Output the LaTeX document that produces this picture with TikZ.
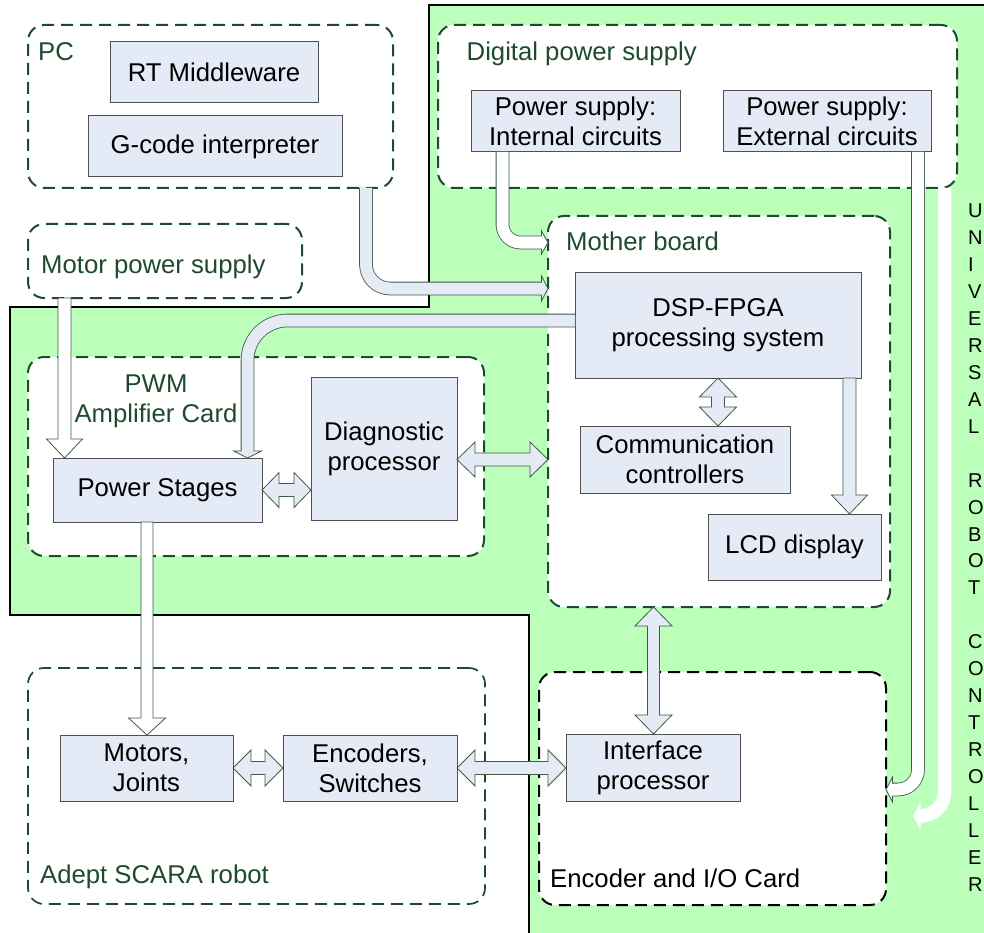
\documentclass[tikz,border=0pt]{standalone}
\usepackage{fontspec}
\setmainfont{Liberation Sans}
\usetikzlibrary{calc}
\definecolor{greenbg}{RGB}{187,255,187}
\definecolor{dkgreen}{RGB}{30,75,45}
\definecolor{boxfill}{RGB}{229,235,246}
\definecolor{boxline}{RGB}{80,80,80}
\definecolor{arrline}{RGB}{65,90,72}
\definecolor{afill}{RGB}{229,235,244}
\newcommand\mainfnt{\fontsize{25.7}{30}\selectfont}
\tikzset{
  container/.style={draw=dkgreen, line width=2pt, dash pattern=on 12pt off 7pt, rounded corners=16pt, fill=white, inner sep=0pt, outer sep=0pt},
  cbox/.style={draw=boxline, line width=1pt, fill=boxfill, inner sep=0pt, outer sep=0pt, align=center, font=\mainfnt},
  lbl/.style={inner sep=0pt, anchor=base west, text=dkgreen, font=\mainfnt},
  vlet/.style={inner sep=0pt, anchor=base west, font=\fontsize{20}{27}\selectfont},
  arrbody/.style={draw=arrline, line width=0.8pt, line join=miter},
}
% node by corners: style, name, x1, y1, x2, y2, text
\newcommand\boxnode[7]{\node[#1, minimum width={#5-#3}, minimum height={#6-#4}] (#2) at ({(#3+#5)/2},{(#4+#6)/2}) {#7};}
% horizontal double arrow: p1 (left tip), p2 (right tip), head length, head half width, shaft half width
\newcommand\dblH[5]{\filldraw[arrbody, fill=afill] (#1) -- ($(#1)+(#3,-#4)$) -- ($(#1)+(#3,-#5)$) -- ($(#2)+(-#3,-#5)$) -- ($(#2)+(-#3,-#4)$) -- (#2) -- ($(#2)+(-#3,#4)$) -- ($(#2)+(-#3,#5)$) -- ($(#1)+(#3,#5)$) -- ($(#1)+(#3,#4)$) -- cycle;}
% vertical double arrow: p1 (top tip), p2 (bottom tip)
\newcommand\dblV[5]{\filldraw[arrbody, fill=afill] (#1) -- ($(#1)+(#4,#3)$) -- ($(#1)+(#5,#3)$) -- ($(#2)+(#5,-#3)$) -- ($(#2)+(#4,-#3)$) -- (#2) -- ($(#2)+(-#4,-#3)$) -- ($(#2)+(-#5,-#3)$) -- ($(#1)+(-#5,#3)$) -- ($(#1)+(-#4,#3)$) -- cycle;}
% single downward arrow: start, tip, head length, head half width, shaft half width, fill
\newcommand\sglD[6]{\filldraw[arrbody, fill=#6] ($(#1)+(-#5,0)$) -- ($(#2)+(-#5,-#3)$) -- ($(#2)+(-#4,-#3)$) -- (#2) -- ($(#2)+(#4,-#3)$) -- ($(#2)+(#5,-#3)$) -- ($(#1)+(#5,0)$) -- cycle;}
\begin{document}
\begin{tikzpicture}[x=1pt,y=-1pt]
\useasboundingbox (0,0) rectangle (984,933);
% green region
\filldraw[fill=greenbg, draw=black, line width=2.2pt] (429,5) -- (995,5) -- (995,945) -- (529,945) -- (529,615) -- (10,615) -- (10,307) -- (429,307) -- cycle;

% containers
\boxnode{container}{pc}{28}{25}{393}{188}{}
\boxnode{container}{mps}{28}{224}{302}{298}{}
\boxnode{container}{dps}{438}{25}{957}{188}{}
\boxnode{container}{mb}{548}{216}{890}{607}{}
\boxnode{container}{pwm}{28}{357}{484}{556}{}
\boxnode{container, line width=1.7pt}{robot}{28}{668}{485}{904}{}
\boxnode{container, draw=black}{enc}{539}{672}{886}{905}{}

% boxes
\boxnode{cbox}{rt}{110}{42}{318}{103}{RT Middleware}
\boxnode{cbox}{gc}{88}{116}{342}{177}{G-code interpreter}
\boxnode{cbox}{psi}{471}{91}{680}{152}{Power supply:\\Internal circuits}
\boxnode{cbox}{pse}{723}{91}{931}{152}{Power supply:\\External circuits}
\boxnode{cbox}{dsp}{575}{272}{861}{378}{DSP-FPGA\\processing system}
\boxnode{cbox}{comm}{580}{426}{790}{493}{Communication\\controllers}
\boxnode{cbox}{lcd}{708}{514}{881}{580}{LCD display}
\boxnode{cbox}{pst}{53}{458}{262}{522}{Power Stages}
\boxnode{cbox}{dia}{311}{377}{457}{520}{Diagnostic\\processor}
\boxnode{cbox}{mot}{60}{735}{233}{801}{Motors,\\Joints}
\boxnode{cbox}{encd}{283}{735}{457}{801}{Encoders,\\Switches}
\boxnode{cbox}{intf}{566}{734}{740}{801}{Interface\\processor}

% labels
\node[lbl] (lpc) at (38,61) {PC};
\node[lbl] (lmps) at (41,273) {Motor power supply};
\node[lbl] (ldps) at (466.5,60.5) {Digital power supply};
\node[lbl] (lmb) at (566,251) {Mother board};
\node[lbl, anchor=base] (lpwm1) at (156,392) {PWM};
\node[lbl, anchor=base] (lpwm2) at (156,422) {Amplifier Card};
\node[lbl] (lrob) at (40,883) {Adept SCARA robot};
\node[lbl, text=black] (lenc) at (550,887) {Encoder and I/O Card};

% vertical text
\foreach \ch [count=\i] in {U,N,I,V,E,R,S,A,L,{},R,O,B,O,T,{},C,O,N,T,R,O,L,L,E,R}
  \node[vlet] (v\i) at (968,{217.5+(\i-1)*26.96}) {\ch};

% ---- bent arrows ----
% PC -> Mother board
\coordinate (pcS) at (pc.south -| 366,0);
\coordinate (pcT) at (mb.west |- 0,288.5);
\draw[arrline, line width=13.6pt, rounded corners=24pt, shorten >=6.5pt] (pcS) |- (pcT);
\filldraw[arrbody, fill=afill] (pcT) -- ++(-6.5,-12.5) -- ++(0,25) -- cycle;
\draw[afill, line width=12pt, rounded corners=24pt, shorten >=5.3pt] (pcS) |- (pcT);
% Power supply internal -> Mother board
\coordinate (psiS) at (psi.south -| 502.5,0);
\coordinate (psiT) at (mb.west |- 0,242.5);
\draw[arrline, line width=13.6pt, rounded corners=18pt, shorten >=6.5pt] (psiS) |- (psiT);
\filldraw[arrbody, fill=white] (psiT) -- ++(-6.5,-11.5) -- ++(0,23) -- cycle;
\draw[white, line width=12pt, rounded corners=18pt, shorten >=5.3pt] (psiS) |- (psiT);
% DSP -> Power Stages
\coordinate (dsS) at (dsp.west |- 0,320.5);
\coordinate (dsT) at (pst.north -| 247.5,0);
\draw[arrline, line width=13.6pt, rounded corners=40pt, shorten >=7pt] (dsS) -| (dsT);
\filldraw[arrbody, fill=afill] (dsT) -- ++(-14,-7) -- ++(28,0) -- cycle;
\draw[afill, line width=12pt, rounded corners=40pt, shorten >=5.8pt] (dsS) -| (dsT);
% Power supply external -> Encoder card
\coordinate (pseS) at (pse.south -| 918,0);
\coordinate (pseT) at (enc.east |- 0,789.5);
\draw[arrline, line width=13.6pt, rounded corners=20pt, shorten >=6.5pt] (pseS) |- (pseT);
\filldraw[arrbody, fill=white] (pseT) -- ++(6.5,-12.5) -- ++(0,25) -- cycle;
\draw[white, line width=12pt, rounded corners=20pt, shorten >=5.3pt] (pseS) |- (pseT);
% white arrow (no outline)
\coordinate (wS) at (dps.south -| 944.5,0);
\coordinate (wT) at (913,816);
\draw[white, line width=13.5pt, rounded corners=24pt, shorten >=6pt] (wS) |- (wT);
\fill[white] (wT) -- ++(7.5,-13.5) -- ++(0,27) -- cycle;

% ---- straight single arrows ----
\coordinate (m1) at (mps.south -| 64.5,0);
\coordinate (m2) at (pst.north -| 64.5,0);
\sglD{m1}{m2}{19}{18}{6.5}{white}
\coordinate (p1) at (pst.south -| 147,0);
\coordinate (p2) at (mot.north -| 147,0);
\sglD{p1}{p2}{17}{18.5}{6}{white}
\coordinate (l1) at (dsp.south -| 849.5,0);
\coordinate (l2) at (lcd.north -| 849.5,0);
\sglD{l1}{l2}{19}{18}{6.5}{afill}

% ---- double arrows ----
\coordinate (a1) at (pst.east |- 0,490);
\coordinate (a2) at (dia.west |- 0,490);
\dblH{a1}{a2}{17}{17.5}{6.5}
\coordinate (b1) at (dia.east |- 0,459.5);
\coordinate (b2) at (mb.west |- 0,459.5);
\dblH{b1}{b2}{18}{17.5}{6.5}
\coordinate (c1) at (mot.east |- 0,768);
\coordinate (c2) at (encd.west |- 0,768);
\dblH{c1}{c2}{18}{18}{6.5}
\coordinate (d1) at (encd.east |- 0,768);
\coordinate (d2) at (intf.west |- 0,768);
\dblH{d1}{d2}{18}{18}{6.5}
\coordinate (e1) at (dsp.south -| 718,0);
\coordinate (e2) at (comm.north -| 718,0);
\dblV{e1}{e2}{19}{18.5}{6.5}
\coordinate (f1) at (mb.south -| 653.5,0);
\coordinate (f2) at (intf.north -| 653.5,0);
\dblV{f1}{f2}{19}{18.5}{6}
\end{tikzpicture}
\end{document}
